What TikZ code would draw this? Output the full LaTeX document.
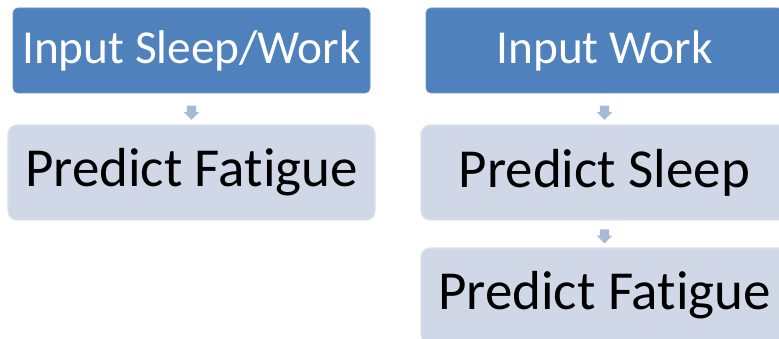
\documentclass[tikz,border=0pt]{standalone}
\usepackage{fontspec}
\setmainfont{Carlito}[Ligatures=NoCommon]
\usetikzlibrary{shapes.arrows,calc}
\definecolor{accent}{HTML}{4F81BD}
\definecolor{accentbd}{HTML}{6A93C8}
\definecolor{pale}{HTML}{D0D8E8}
\definecolor{palebd}{HTML}{DCE2EE}
\definecolor{arrowc}{HTML}{A7B8D8}
\tikzset{
  inputbox/.style={rectangle, rounded corners=5pt, fill=accent, draw=accentbd, line width=0.8pt,
    minimum width=357pt, minimum height=85pt, inner sep=0pt, text=white, font=\fontsize{47.3}{52}\selectfont},
  predbox/.style={rectangle, rounded corners=9pt, fill=pale, draw=palebd, line width=1.2pt,
    minimum width=367pt, minimum height=95pt, inner sep=0pt, text=black, font=\fontsize{55}{60}\selectfont},
  flowarrow/.style={single arrow, fill=arrowc, draw=none, rotate=-90, minimum height=13pt,
    inner sep=4.5pt, single arrow head extend=3pt, single arrow head indent=0pt}
}
\begin{document}
\begin{tikzpicture}[x=1pt,y=-1pt]
\useasboundingbox (0,0) rectangle (779,339);
% left chain
\node[inputbox] (lin) at (191.5,50.5) {Input Sleep/Work};
\node[predbox] (lfat) at (191.5,172.5) {Predict Fatigue};
\node[flowarrow] (la) at ($(lin.south)!0.55!(lfat.north)$) {};
% right chain
\node[inputbox] (rin) at (604.5,50.5) {Input Work};
\node[predbox] (rslp) at (604.5,172.5) {Predict Sleep};
\node[predbox] (rfat) at (604.5,295.5) {Predict Fatigue};
\node[flowarrow] (ra1) at ($(rin.south)!0.55!(rslp.north)$) {};
\node[flowarrow] (ra2) at ($(rslp.south)!0.5!(rfat.north)$) {};
\end{tikzpicture}
\end{document}
